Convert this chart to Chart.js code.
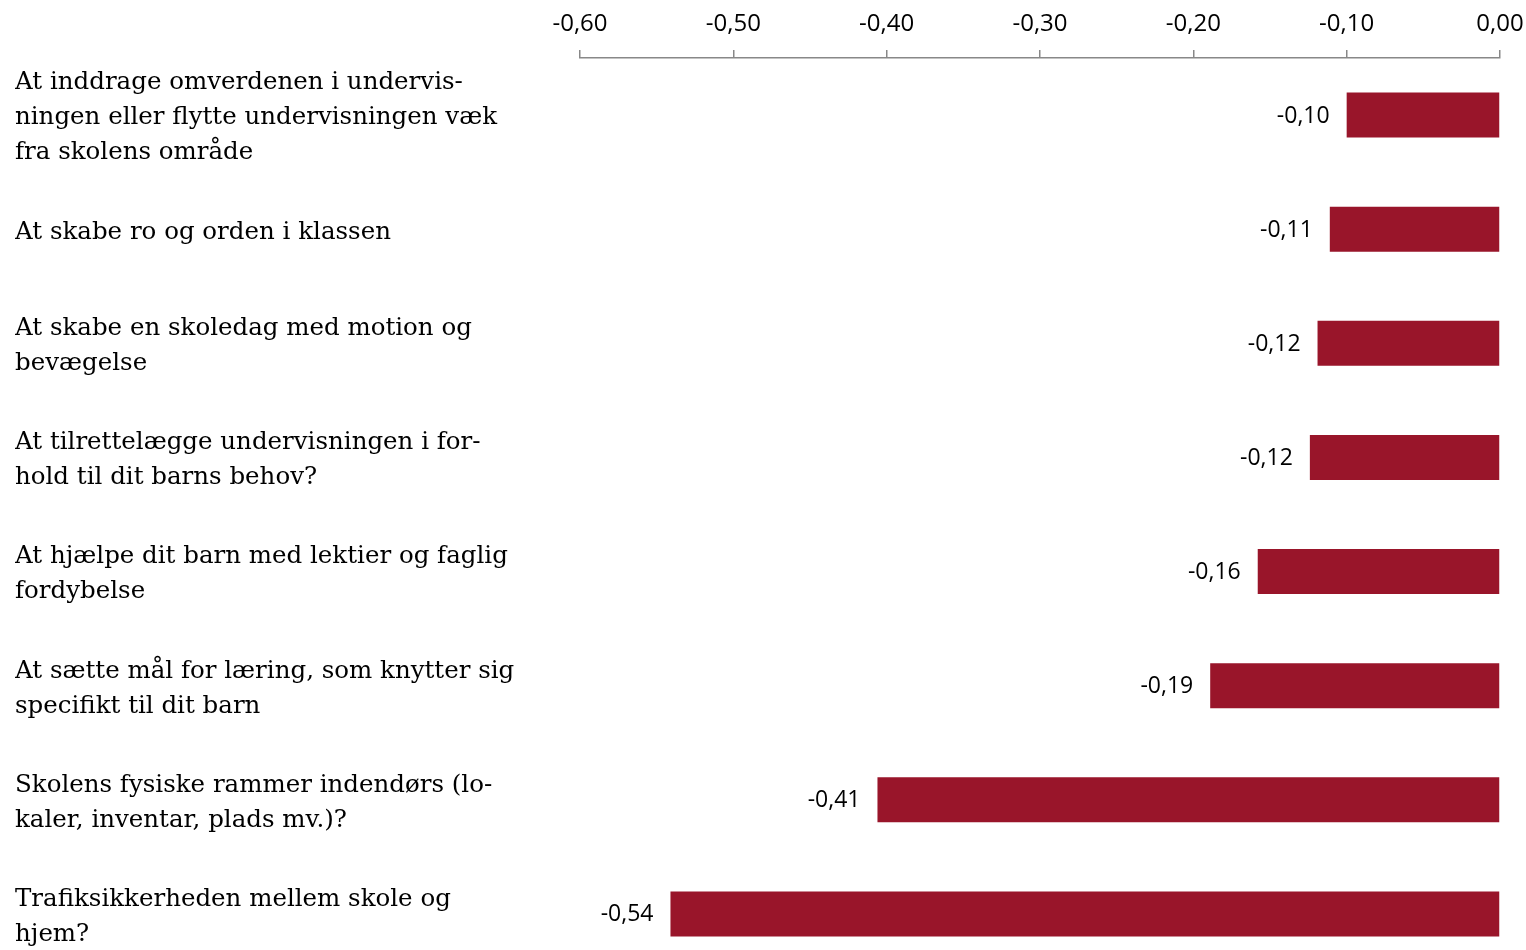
<!DOCTYPE html>
<html>
<head>
  <meta charset="utf-8">
  <title>Vurderinger</title>
  <script src="https://cdn.jsdelivr.net/npm/chart.js"></script>
  <style>
    html, body { margin: 0; padding: 0; background: #fff; overflow: hidden; }
    #wrap { width: 1526px; height: 975px; }
  </style>
</head>
<body>
  <div id="wrap"><canvas id="chart" width="1526" height="975"></canvas></div>

  <script>
    // categories, top to bottom (line breaks as in the original)
    const categories = [
      ['At inddrage omverdenen i undervis-', 'ningen eller flytte undervisningen væk', 'fra skolens område'],
      ['At skabe ro og orden i klassen'],
      ['At skabe en skoledag med motion og', 'bevægelse'],
      ['At tilrettelægge undervisningen i for-', 'hold til dit barns behov?'],
      ['At hjælpe dit barn med lektier og faglig', 'fordybelse'],
      ['At sætte mål for læring, som knytter sig', 'specifikt til dit barn'],
      ['Skolens fysiske rammer indendørs (lo-', 'kaler, inventar, plads mv.)?'],
      ['Trafiksikkerheden mellem skole og', 'hjem?']
    ];
    const values = [-0.100, -0.111, -0.119, -0.124, -0.158, -0.189, -0.406, -0.541];
    const axisMin = -0.6, axisMax = 0, axisStep = 0.1;

    const fmt = v => (Math.abs(v) < 1e-9 ? 0 : v).toFixed(2).replace('.', ',');

    const valueLabels = {
      id: 'valueLabels',
      afterDatasetsDraw(chart) {
        const ctx = chart.ctx;
        const meta = chart.getDatasetMeta(0);
        ctx.save();
        ctx.font = '23px "Open Sans"';
        ctx.fillStyle = '#000';
        ctx.textAlign = 'right';
        ctx.textBaseline = 'middle';
        meta.data.forEach((bar, i) => {
          ctx.fillText(fmt(values[i]), bar.x - 17, bar.y + 1);
        });
        ctx.restore();
      }
    };

    new Chart(document.getElementById('chart'), {
      type: 'bar',
      data: {
        labels: categories,
        datasets: [{
          data: values,
          backgroundColor: '#99152a',
          borderWidth: 0,
          barPercentage: 0.394,
          categoryPercentage: 1
        }]
      },
      options: {
        indexAxis: 'y',
        responsive: false,
        animation: false,
        layout: { padding: { left: 15, right: 26, top: 0, bottom: 4 } },
        plugins: { legend: { display: false }, tooltip: { enabled: false } },
        scales: {
          x: {
            position: 'top',
            min: axisMin, max: axisMax,
            ticks: {
              stepSize: axisStep,
              padding: 11,
              color: '#000',
              font: { family: '"Open Sans"', size: 24 },
              callback: v => fmt(v)
            },
            grid: { drawOnChartArea: false, tickLength: 8, color: '#888', lineWidth: 1.5 },
            border: { display: true, color: '#888', width: 1.5 },
            afterFit: s => { s.height = 58; s.paddingLeft = 0; s.paddingRight = 0; }
          },
          y: {
            ticks: {
              autoSkip: false,
              crossAlign: 'far',
              labelOffset: 3,
              color: '#000',
              font: { family: '"DejaVu Serif"', size: 24.5, lineHeight: 1.43 }
            },
            grid: { display: false },
            border: { display: false },
            afterFit: s => { s.width = 565; s.paddingTop = 0; s.paddingBottom = 0; }
          }
        }
      },
      plugins: [valueLabels]
    });
  </script>
</body>
</html>
